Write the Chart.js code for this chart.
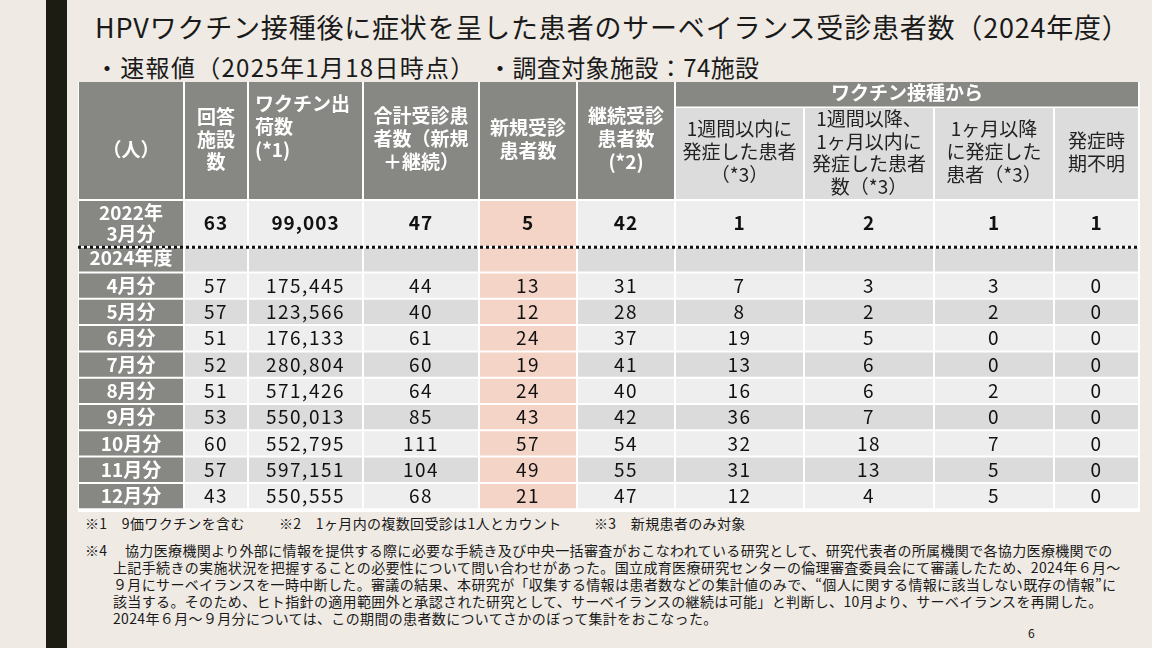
<!DOCTYPE html>
<html lang="ja">
<head>
<meta charset="utf-8">
<script src="https://cdn.jsdelivr.net/npm/chart.js@4.4.1/dist/chart.umd.min.js"></script>
<style>
  html, body { margin: 0; padding: 0; }
  body {
    width: 1152px; height: 648px; position: relative; overflow: hidden;
    background: #efebe4; color: #1a1a1a;
    font-family: "Noto Sans CJK JP", "Noto Sans", sans-serif;
  }
  .sidebar { position: absolute; left: 46px; top: 0; width: 21px; height: 648px; background: #1c1c13; }
  .title { position: absolute; left: 95px; top: 7px; font-size: 27px; line-height: 40px; letter-spacing: 0.8px; white-space: nowrap; }
  .sub { position: absolute; top: 50px; font-size: 24px; line-height: 34px; white-space: nowrap; }
  #tableBox { position: absolute; left: 78px; top: 82px; width: 1062px; height: 430px; }
  .note { position: absolute; font-size: 14px; line-height: 17px; letter-spacing: 0.35px; white-space: nowrap; }
  .page { position: absolute; left: 1028px; top: 624px; font-size: 12px; }
</style>
</head>
<body>
<div class="sidebar"></div>
<div class="title">HPVワクチン接種後に症状を呈した患者のサーベイランス受診患者数（2024年度）</div>
<div class="sub" style="left:95px; letter-spacing:1.3px">・速報値（2025年1月18日時点）</div>
<div class="sub" style="left:488px; letter-spacing:0.4px">・調査対象施設：74施設</div>

<div id="tableBox"><canvas id="surveyTable"></canvas></div>

<div class="note" style="left:85px; top:515px">※1　9価ワクチンを含む</div>
<div class="note" style="left:279px; top:515px">※2　1ヶ月内の複数回受診は1人とカウント</div>
<div class="note" style="left:594px; top:515px">※3　新規患者のみ対象</div>
<div class="note" style="left:85px; top:542px">※4</div>
<div class="note" style="left:125px; top:542px">協力医療機関より外部に情報を提供する際に必要な手続き及び中央一括審査がおこなわれている研究として、研究代表者の所属機関で各協力医療機関での</div>
<div class="note" style="left:113px; top:559px">上記手続きの実施状況を把握することの必要性について問い合わせがあった。国立成育医療研究センターの倫理審査委員会にて審議したため、2024年６月～</div>
<div class="note" style="left:113px; top:576px">９月にサーベイランスを一時中断した。審議の結果、本研究が「収集する情報は患者数などの集計値のみで、“個人に関する情報に該当しない既存の情報”に</div>
<div class="note" style="left:113px; top:593px">該当する。そのため、ヒト指針の適用範囲外と承認された研究として、サーベイランスの継続は可能」と判断し、10月より、サーベイランスを再開した。</div>
<div class="note" style="left:113px; top:610px">2024年６月～９月分については、この期間の患者数についてさかのぼって集計をおこなった。</div>
<div class="page">6</div>

<script>
// rows: index 0 = 2022年3月分, 1..9 = 2024年4月分..12月分
const baseLabel = "2022年\n3月分";
const yearLabel = "2024年度";
const monthLabels = ["4月分", "5月分", "6月分", "7月分", "8月分", "9月分", "10月分", "11月分", "12月分"];

const facilities = [63, 57, 57, 51, 52, 51, 53, 60, 57, 43];
const shipments = [99003, 175445, 123566, 176133, 280804, 571426, 550013, 552795, 597151, 550555];
const totalPatients = [47, 44, 40, 61, 60, 64, 85, 111, 104, 68];
const newPatients = [5, 13, 12, 24, 19, 24, 43, 57, 49, 21];
const continuingPatients = [42, 31, 28, 37, 41, 40, 42, 54, 55, 47];
const within1Week = [1, 7, 8, 19, 13, 16, 36, 32, 31, 12];
const week1To1Month = [2, 3, 2, 5, 6, 6, 7, 18, 13, 4];
const after1Month = [1, 3, 2, 0, 0, 2, 0, 7, 5, 5];
const onsetUnknown = [1, 0, 0, 0, 0, 0, 0, 0, 0, 0];

const columnHeaders = [
  "（人）", "回答\n施設\n数", "ワクチン出\n荷数\n(*1)", "合計受診患\n者数（新規\n＋継続）",
  "新規受診\n患者数", "継続受診\n患者数\n(*2)",
  "1週間以内に\n発症した患者\n（*3）", "1週間以降、\n1ヶ月以内に\n発症した患者\n数（*3）",
  "1ヶ月以降\nに発症した\n患者（*3）", "発症時\n期不明",
];
const groupHeader = "ワクチン接種から";

// ---- layout (table pixels, origin at table top-left) ----
const tableW = 1062, tableH = 430;
const colEdges = [0, 106, 170, 285, 401, 499, 597, 726, 856, 976, 1061];
const headMain = [0, 117], headBand = [0, 24.5], headSub = [26, 117];
const baseRow = [119, 164], yearRow = [166, 189.5];
const monthTop = 190.5, monthH = 26.3;
const dottedY = 165.2;
// first line y, line height, alignment for each header
const headerPos = [
  { y: 68, lh: 22.5 }, { y: 35, lh: 22.5 }, { y: 22, lh: 23, left: 177 }, { y: 34, lh: 23 },
  { y: 46, lh: 22.5 }, { y: 34, lh: 23 },
  { y: 47, lh: 23 }, { y: 37, lh: 22.5 }, { y: 47, lh: 23 }, { y: 59, lh: 22.5 },
];

const GRAY = "#878783", LIGHT = "#eeeeee", DARK = "#dbdbdb", SUB = "#dcdcdc", PINK = "#f4d4c7";

const bodyColumns = [facilities, shipments, totalPatients, newPatients, continuingPatients,
  within1Week, week1To1Month, after1Month, onsetUnknown];

function cell(c0, c1, band) {
  return { x: [colEdges[c0] + 1, colEdges[c1] - 1], y: (band[0] + band[1]) / 2 };
}

function rowDataset(label, bands, shade) {
  const data = [], colors = [];
  bands.forEach((band, r) => {
    for (let c = 0; c < 10; c++) {
      data.push(cell(c, c + 1, band));
      colors.push(c === 0 ? GRAY : c === 4 ? PINK : shade(r));
    }
  });
  return { label, data, backgroundColor: colors, barThickness: bands[0][1] - bands[0][0] };
}

const monthBands = monthLabels.map((m, i) => [monthTop + i * monthH + 1, monthTop + (i + 1) * monthH - 1]);

const datasets = [
  {
    label: "header",
    data: [0, 1, 2, 3, 4, 5].map(c => cell(c, c + 1, headMain)),
    backgroundColor: GRAY, barThickness: headMain[1] - headMain[0],
  },
  { label: "group", data: [cell(6, 10, headBand)], backgroundColor: GRAY, barThickness: headBand[1] - headBand[0] },
  {
    label: "subheader",
    data: [6, 7, 8, 9].map(c => cell(c, c + 1, headSub)),
    backgroundColor: SUB, barThickness: headSub[1] - headSub[0],
  },
  rowDataset("2022", [baseRow], () => LIGHT),
  rowDataset("2024", [yearRow], () => DARK),
  rowDataset("months", monthBands, r => (r % 2 === 0 ? LIGHT : DARK)),
];

const tableBackground = {
  id: "tableBackground",
  beforeDatasetsDraw(chart) {
    const { ctx, chartArea: a } = chart;
    ctx.save();
    ctx.fillStyle = "#ffffff";
    ctx.fillRect(a.left, a.top, a.right - a.left, a.bottom - a.top);
    ctx.restore();
  },
};

function drawLines(ctx, text, px, py, lh) {
  text.split("\n").forEach((line, i) => ctx.fillText(line, px, py + i * lh));
}

const tableText = {
  id: "tableText",
  afterDatasetsDraw(chart) {
    const { ctx, scales: { x, y } } = chart;
    const midX = c => x.getPixelForValue((colEdges[c] + colEdges[c + 1]) / 2);
    const midY = band => y.getPixelForValue((band[0] + band[1]) / 2);
    ctx.save();

    // dotted separator between 2022 and 2024
    ctx.strokeStyle = "#111";
    ctx.lineWidth = 3;
    ctx.setLineDash([3, 3]);
    ctx.beginPath();
    ctx.moveTo(x.getPixelForValue(0), y.getPixelForValue(dottedY));
    ctx.lineTo(x.getPixelForValue(tableW), y.getPixelForValue(dottedY));
    ctx.stroke();
    ctx.setLineDash([]);

    ctx.textBaseline = "middle";
    // headers
    columnHeaders.forEach((h, c) => {
      const p = headerPos[c];
      const sub = c >= 6;
      ctx.font = (sub ? "" : "bold ") + "19px 'Noto Sans CJK JP'";
      ctx.fillStyle = sub ? "#222" : "#ffffff";
      if (p.left !== undefined) {
        ctx.textAlign = "left";
        drawLines(ctx, h, x.getPixelForValue(p.left), y.getPixelForValue(p.y), p.lh);
      } else {
        ctx.textAlign = "center";
        drawLines(ctx, h, midX(c), y.getPixelForValue(p.y), p.lh);
      }
    });
    ctx.textAlign = "center";
    ctx.font = "bold 19px 'Noto Sans CJK JP'";
    ctx.fillStyle = "#ffffff";
    ctx.fillText(groupHeader, x.getPixelForValue((colEdges[6] + colEdges[10]) / 2), y.getPixelForValue(11));

    // row labels
    drawLines(ctx, baseLabel, midX(0), y.getPixelForValue(131), 21);
    ctx.fillText(yearLabel, midX(0), y.getPixelForValue(176));
    monthLabels.forEach((m, i) => ctx.fillText(m, midX(0), midY(monthBands[i])));

    // values
    ctx.fillStyle = "#111";
    const fmt = (v, c) => (c === 1 ? v.toLocaleString("en-US") : String(v));
    ctx.letterSpacing = "1px";
    ctx.font = "bold 19px 'Noto Sans CJK JP'";
    bodyColumns.forEach((col, k) => ctx.fillText(fmt(col[0], k), midX(k + 1), midY(baseRow) - 1));
    ctx.letterSpacing = "1.5px";
    ctx.font = "19px 'Noto Sans CJK JP'";
    monthBands.forEach((band, i) => {
      bodyColumns.forEach((col, k) => ctx.fillText(fmt(col[i + 1], k), midX(k + 1), midY(band)));
    });
    ctx.restore();
  },
};

new Chart(document.getElementById("surveyTable"), {
  type: "bar",
  data: { datasets },
  options: {
    indexAxis: "y",
    responsive: true,
    maintainAspectRatio: false,
    animation: false,
    events: [],
    layout: { padding: 0 },
    datasets: { bar: { grouped: false, borderWidth: 0, inflateAmount: 0 } },
    scales: {
      x: { type: "linear", min: 0, max: tableW, offset: false, display: false },
      y: { type: "linear", min: 0, max: tableH, offset: false, reverse: true, display: false },
    },
    plugins: { legend: { display: false }, tooltip: { enabled: false } },
  },
  plugins: [tableBackground, tableText],
});
</script>
</body>
</html>
